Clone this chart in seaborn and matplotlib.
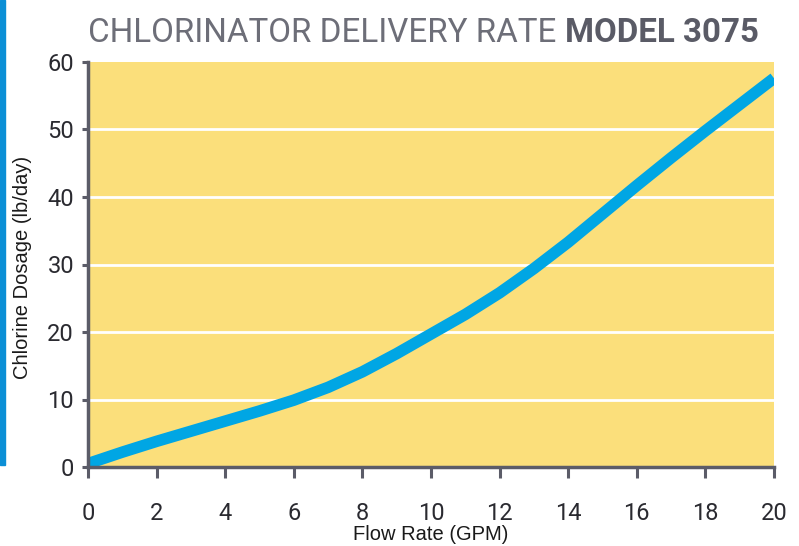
import matplotlib
matplotlib.use('Agg')
import matplotlib.pyplot as plt
import seaborn as sns
from matplotlib.patches import Rectangle

# values
flow_gpm = [0, 1, 2, 3, 4, 5, 6, 7, 8, 9, 10,
            11, 12, 13, 14, 15, 16, 17, 18, 19, 20]
dosage_lb_day = [0.5, 2.2, 3.8, 5.3, 6.8, 8.3, 9.9, 11.8, 14.1, 16.8, 19.7,
                 22.6, 25.8, 29.4, 33.3, 37.5, 41.7, 45.8, 49.8, 53.7, 57.6]
x_ticks = [0, 2, 4, 6, 8, 10, 12, 14, 16, 18, 20]
y_ticks = [0, 10, 20, 30, 40, 50, 60]

title_light = "CHLORINATOR DELIVERY RATE "
title_bold = "MODEL 3075"

sns.set_theme(style="white")
plt.rcParams['font.family'] = ['Liberation Sans', 'DejaVu Sans']
TITLE_FONT = "Roboto"

fig = plt.figure(figsize=(7.99, 5.46), dpi=100)
ax = fig.add_axes([88 / 799, 79 / 546, 686 / 799, 405 / 546])
ax.set_facecolor("#fbdf7b")

for yv in y_ticks[1:-1]:
    ax.axhline(yv, color="white", lw=2, zorder=1)

sns.lineplot(x=flow_gpm, y=dosage_lb_day, ax=ax, color="#00a6e4", lw=8.3,
             zorder=3, solid_capstyle="butt", solid_joinstyle="round")

ax.set_xlim(0, 20)
ax.set_ylim(0, 60)
ax.set_xticks(x_ticks)
ax.set_yticks(y_ticks)
ax.set_xticklabels([str(v) for v in x_ticks], family=TITLE_FONT, fontsize=17, color="#2a2a30")
ax.set_yticklabels([str(v) for v in y_ticks], family=TITLE_FONT, fontsize=17, color="#2a2a30")
ax.tick_params(axis="x", direction="out", length=8, width=2.2, color="#5b5c68", pad=17, bottom=True)
ax.tick_params(axis="y", direction="out", length=4, width=2.2, color="#5b5c68", pad=6, left=True)

for side in ["top", "right"]:
    ax.spines[side].set_visible(False)
for side in ["left", "bottom"]:
    ax.spines[side].set_color("#5b5c68")
    ax.spines[side].set_linewidth(2.5)
    ax.spines[side].set_zorder(4)

ax.set_xlabel("Flow Rate (GPM)", fontsize=14.5, color="#1a1a1a", va="center")
ax.set_ylabel("Chlorine Dosage (lb/day)", fontsize=14.5, color="#1a1a1a", va="center")
ax.xaxis.set_label_coords((431 - 88) / 686, (467 - 535) / 405)
ax.yaxis.set_label_coords((23 - 88) / 686, (467 - 267) / 405)

# title in two weights, scaled so it spans the same width as the reference
t1 = fig.text(88 / 799, 1 - 42 / 546, title_light, family=TITLE_FONT,
              fontsize=30, color="#6d6e78", va="baseline", ha="left")
t2 = ax.annotate(title_bold, xy=(1, 0), xycoords=t1, va="bottom", ha="left",
                 family=TITLE_FONT, fontsize=30, fontweight="bold", color="#5a5b66",
                 annotation_clip=False)
r = fig.canvas.get_renderer()
w = t1.get_window_extent(r).width + t2.get_window_extent(r).width
size = 30 * 669 / w
t1.set_fontsize(size)
t2.set_fontsize(size)

# blue strip at the left edge of the page
fig.patches.append(Rectangle((0, 81 / 546), 5 / 799, 465 / 546,
                             transform=fig.transFigure, color="#0b8fd6", zorder=0))

fig.savefig("out.png", dpi=100)
